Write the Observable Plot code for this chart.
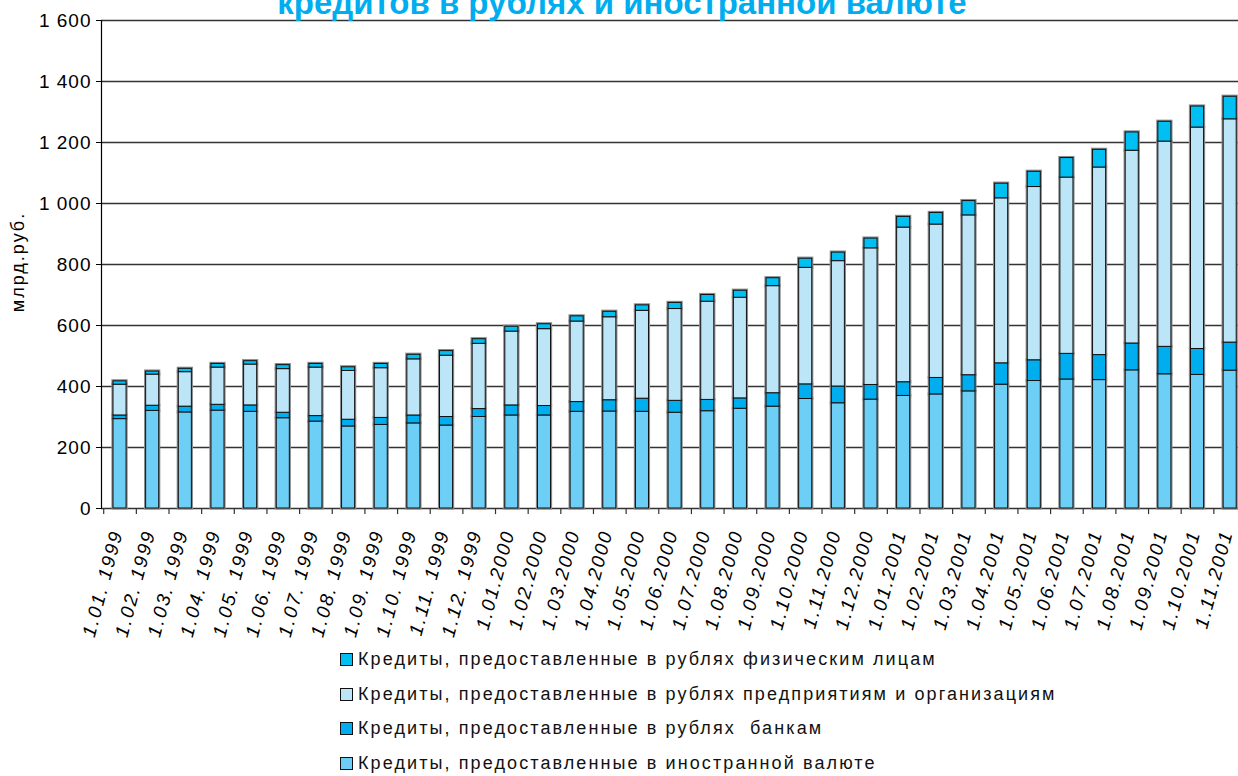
<!DOCTYPE html>
<html>
<head>
<meta charset="utf-8">
<script src="https://cdn.jsdelivr.net/npm/d3@7"></script>
<script src="https://cdn.jsdelivr.net/npm/@observablehq/plot@0.6"></script>
<style>
  html, body { margin: 0; padding: 0; background: #fff; }
  body { width: 1238px; height: 776px; overflow: hidden; position: relative; font-family: "Liberation Sans", Arial, sans-serif; }
  #title { position: absolute; left: 0; width: 1244px; top: -14px; text-align: center; font-weight: bold; font-size: 33px; line-height: 33px; color: #00aeef; white-space: nowrap; }
  #chart { position: absolute; left: 0; top: 0; }
  #ylabel { position: absolute; left: 18px; top: 262px; transform: translate(-50%, -50%) rotate(-90deg); font-size: 18px; letter-spacing: 2px; color: #000; white-space: nowrap; }
  #legend { position: absolute; left: 340px; top: 642px; font-size: 18px; letter-spacing: 2.1px; color: #111; }
  .li { display: flex; align-items: center; height: 34.7px; white-space: pre; }
  .sw { width: 11px; height: 11px; border: 1px solid #111; margin-right: 5px; }
  g[aria-label="x-axis tick label"] text { font-style: italic; letter-spacing: 2px; }
  g[aria-label="y-axis tick label"] text { letter-spacing: 1px; }
</style>
</head>
<body>
<div id="chart"></div>
<div id="title">кредитов в рублях и иностранной валюте</div>
<div id="ylabel">млрд.руб.</div>
<div id="legend"></div>
<script>
const dates = ["1.01. 1999","1.02. 1999","1.03. 1999","1.04. 1999","1.05. 1999","1.06. 1999","1.07. 1999","1.08. 1999","1.09. 1999","1.10. 1999","1.11. 1999","1.12. 1999",
  "1.01.2000","1.02.2000","1.03.2000","1.04.2000","1.05.2000","1.06.2000","1.07.2000","1.08.2000","1.09.2000","1.10.2000","1.11.2000","1.12.2000",
  "1.01.2001","1.02.2001","1.03.2001","1.04.2001","1.05.2001","1.06.2001","1.07.2001","1.08.2001","1.09.2001","1.10.2001","1.11.2001"];
const foreign = [293,320,315,321,317,296,285,269,274,279,272,300,305,305,317,318,317,314,319,327,334,359,345,357,369,374,384,406,418,423,421,453,440,438,452];
const banks = [12,17,19,19,21,18,18,22,23,26,28,26,33,31,32,37,43,39,37,34,44,48,55,48,45,54,53,70,68,84,82,88,90,85,92];
const enterprises = [101,102,113,122,134,143,159,160,163,184,201,214,242,252,264,272,288,301,322,330,351,382,411,448,507,503,524,541,568,578,615,632,673,726,732];
const individuals = [11,10,11,12,11,13,12,12,14,15,15,15,16,16,17,18,18,20,22,23,26,30,28,32,35,38,47,48,50,64,58,60,65,69,74];
const seriesNames = [
  "Кредиты, предоставленные в иностранной валюте",
  "Кредиты, предоставленные в рублях  банкам",
  "Кредиты, предоставленные в рублях предприятиям и организациям",
  "Кредиты, предоставленные в рублях физическим лицам"
];
const seriesColors = ["#6dcff6", "#00aeef", "#bde5f8", "#00bff3"];
const yTicks = [0, 200, 400, 600, 800, 1000, 1200, 1400, 1600];

const seriesValues = [foreign, banks, enterprises, individuals];
const data = [];
seriesNames.forEach((s, si) => dates.forEach((d, i) => data.push({date: d, series: s, value: seriesValues[si][i]})));

const W = 1238, H = 645, mLeft = 101, mTop = 20, mBottom = 137;
const xStart = 103.2, xEnd = 1246.0;
const bw = (xEnd - xStart) / dates.length;
const fmt = v => d3.format(",")(v).replace(/,/g, " ");

const chart = Plot.plot({
  width: W, height: H,
  marginLeft: mLeft, marginRight: 0, marginTop: mTop, marginBottom: mBottom,
  style: {fontFamily: "'Liberation Sans', Arial, sans-serif", color: "#000", background: "transparent", overflow: "visible"},
  x: {type: "band", domain: dates, range: [xStart, xEnd], paddingInner: 0.6, paddingOuter: 0.3, align: 0.5, round: false, label: null},
  y: {domain: [0, 1600], label: null},
  color: {domain: seriesNames, range: seriesColors},
  marks: [
    Plot.ruleY(yTicks, {stroke: "#333", strokeWidth: 1.3}),
    Plot.frame({anchor: "left", stroke: "#000", strokeWidth: 1.2}),
    Plot.ruleX(dates, {x: d => d, dx: -bw / 2, y1: 0, y2: -20, stroke: "#333", strokeWidth: 1.2}),
    Plot.barY(data, {x: "date", y: "value", fill: "series", order: seriesNames, stroke: "#8a8a8a", strokeWidth: 3.2}),
    Plot.barY(data, {x: "date", y: "value", fill: "series", order: seriesNames, stroke: "#111", strokeWidth: 1}),
    Plot.axisY({ticks: yTicks, tickFormat: fmt, tickSize: 5, tickPadding: 5, fontSize: 19, stroke: "#000", label: null}),
    Plot.axisX({tickSize: 0, tickRotate: -75, tickPadding: 22, fontSize: 19, dx: -3, label: null})
  ]
});
document.getElementById("chart").appendChild(chart);

const legendOrder = [3, 2, 1, 0];
const lg = document.getElementById("legend");
legendOrder.forEach(i => {
  const row = document.createElement("div");
  row.className = "li";
  const sw = document.createElement("span");
  sw.className = "sw";
  sw.style.background = seriesColors[i];
  const t = document.createElement("span");
  t.textContent = seriesNames[i];
  row.appendChild(sw); row.appendChild(t);
  lg.appendChild(row);
});
</script>
</body>
</html>
